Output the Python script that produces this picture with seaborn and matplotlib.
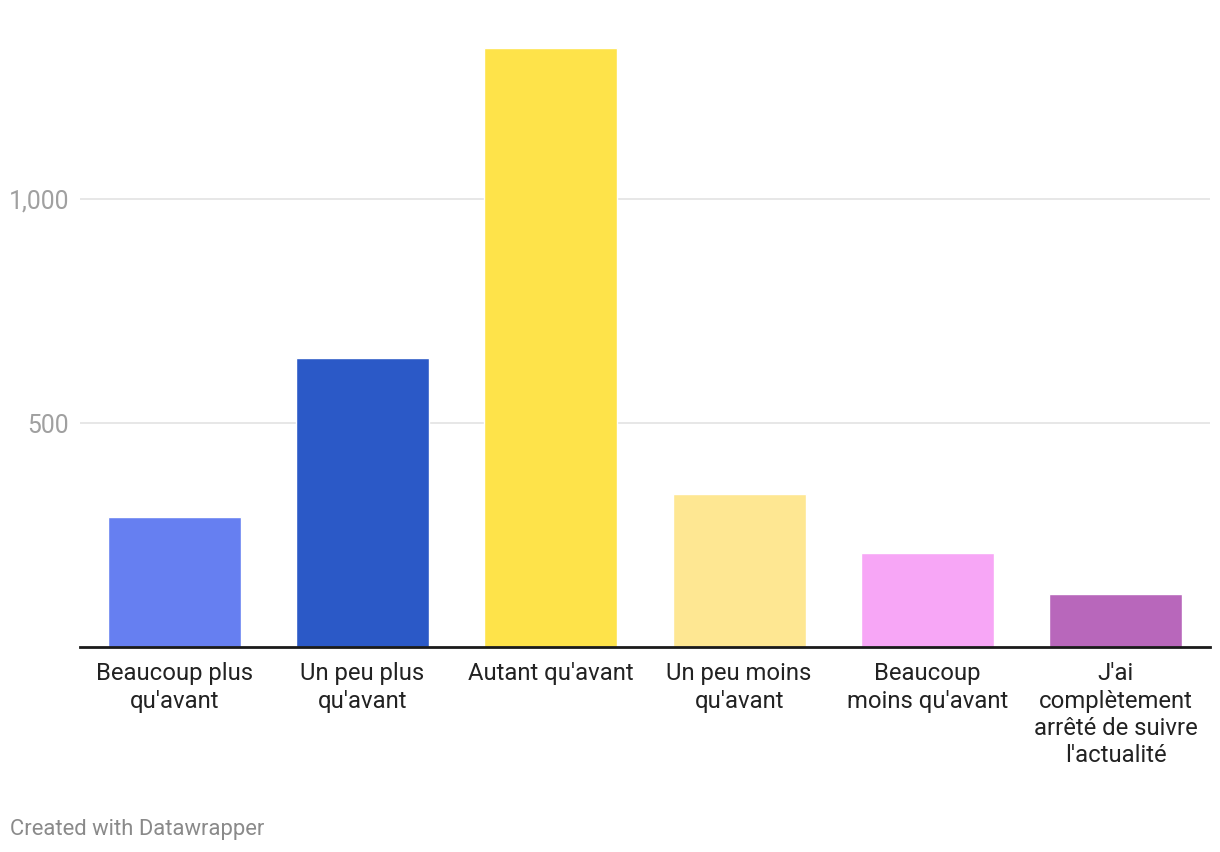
import pandas as pd
import numpy as np
import seaborn as sns
import matplotlib.pyplot as plt

categories = ["Beaucoup plus\nqu'avant", "Un peu plus\nqu'avant", "Autant qu'avant",
              "Un peu moins\nqu'avant", "Beaucoup\nmoins qu'avant",
              "J'ai\ncomplètement\narrêté de suivre\nl'actualité"]
values = [290, 645, 1337, 341, 210, 118]
colors = ["#667ff1", "#2b59c7", "#fee34a", "#fee792", "#f7a6f6", "#b867bb"]

df = pd.DataFrame({"cat": categories, "val": values})

sns.set_style("white")
plt.rcParams["font.family"] = ["Roboto", "DejaVu Sans"]

fig = plt.figure(figsize=(12.2, 8.52), dpi=100)
ax = fig.add_axes([80 / 1220, 205 / 852, 1130 / 1220, 607 / 852])

sns.barplot(data=df, x="cat", y="val", hue="cat", palette=colors, width=0.707,
            legend=False, ax=ax, saturation=1, zorder=3)

ax.set_ylim(0, 1355)
ax.set_xlim(-0.5, 5.5)
ax.set_yticks([500, 1000])
ax.set_yticklabels(["500", "1,000"])
ax.yaxis.grid(True, color="#e3e3e3", linewidth=1.2, zorder=0)
ax.set_axisbelow(True)
for s in ["top", "right", "left"]:
    ax.spines[s].set_visible(False)
ax.spines["bottom"].set_color("#1a1a1a")
ax.spines["bottom"].set_linewidth(2)
ax.spines["bottom"].set_zorder(5)
ax.tick_params(axis="y", length=0, pad=8, labelsize=17.8, labelcolor="#a0a0a0")
ax.tick_params(axis="x", length=0, pad=11, labelsize=17.2, labelcolor="#222222")
for t in ax.get_xticklabels():
    t.set_linespacing(1.24)
ax.set_xlabel("")
ax.set_ylabel("")

fig.text(10 / 1220, 1 - 829 / 852, "Created with Datawrapper", fontsize=15.8,
         color="#8a8a8a", va="center", ha="left")

fig.savefig("out.png", dpi=100)
